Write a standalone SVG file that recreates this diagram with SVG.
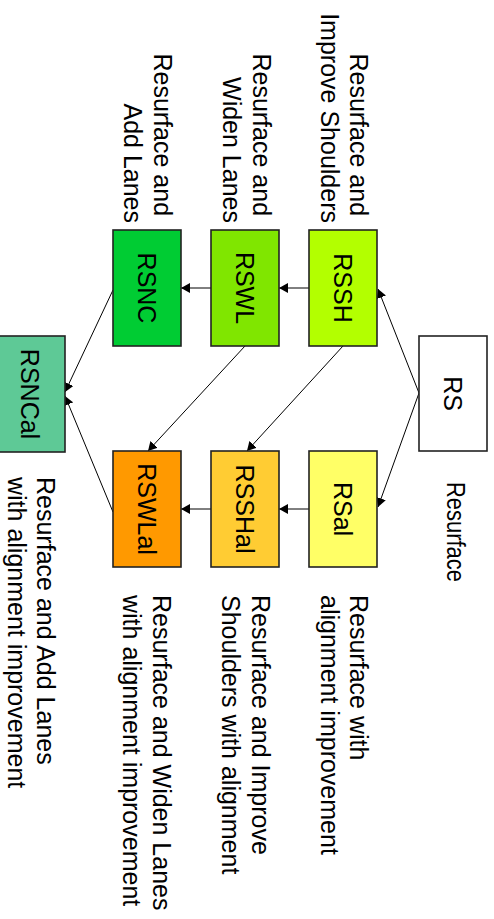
<svg xmlns="http://www.w3.org/2000/svg" width="494" height="919" viewBox="0 0 494 919">
  <style>
    .box { stroke: #222; stroke-width: 1.6; }
    .lbl { font-family: "Liberation Sans", Arial, sans-serif; font-size: 25px; fill: #000; }
    .node { text-anchor: middle; }
    .edge { stroke: #000; stroke-width: 1; fill: none; marker-end: url(#arrow); }
  </style>
  <defs>
    <marker id="arrow" viewBox="0 0 9 10" refX="9" refY="5" markerWidth="9" markerHeight="10" markerUnits="userSpaceOnUse" orient="auto">
      <path d="M0,0 L9,5 L0,10 z" fill="#000"/>
    </marker>
  </defs>
  <rect width="494" height="919" fill="#fff"/>

  <!-- connectors -->
  <g id="connectors">
    <line class="edge" x1="419" y1="393" x2="378" y2="289"/>
    <line class="edge" x1="419" y1="393" x2="378" y2="507"/>
    <line class="edge" x1="309" y1="288" x2="279" y2="288"/>
    <line class="edge" x1="211" y1="288" x2="181" y2="288"/>
    <line class="edge" x1="309" y1="509" x2="279" y2="509"/>
    <line class="edge" x1="211" y1="509" x2="181" y2="509"/>
    <line class="edge" x1="343" y1="346" x2="247" y2="451"/>
    <line class="edge" x1="245" y1="346" x2="148" y2="451"/>
    <line class="edge" x1="113" y1="290" x2="65" y2="392"/>
    <line class="edge" x1="113" y1="512" x2="65" y2="396"/>
  </g>

  <!-- nodes: labels read top-to-bottom -->
  <g id="RS">
    <rect class="box" x="419" y="336" width="68" height="115" fill="#fff"/>
    <text class="lbl node" transform="translate(453,393.5) rotate(90)" y="9">RS</text>
    <text class="lbl" font-size="21" transform="translate(447,482) rotate(90)" textLength="100" lengthAdjust="spacingAndGlyphs">Resurface</text>
  </g>

  <g id="RSSH">
    <rect class="box" x="309" y="230" width="68" height="116" fill="#b3ff00"/>
    <text class="lbl node" transform="translate(343,288) rotate(90)" y="9">RSSH</text>
    <text class="lbl" text-anchor="end" transform="translate(350,223) rotate(90)">
      <tspan x="0" y="0">Resurface and</tspan>
      <tspan x="0" y="29">Improve Shoulders</tspan>
    </text>
  </g>

  <g id="RSWL">
    <rect class="box" x="211" y="230" width="68" height="116" fill="#80e600"/>
    <text class="lbl node" transform="translate(245,288) rotate(90)" y="9">RSWL</text>
    <text class="lbl" text-anchor="end" transform="translate(253,223) rotate(90)">
      <tspan x="0" y="0">Resurface and</tspan>
      <tspan x="0" y="30">Widen Lanes</tspan>
    </text>
  </g>

  <g id="RSNC">
    <rect class="box" x="113" y="230" width="68" height="116" fill="#00cc33"/>
    <text class="lbl node" transform="translate(147,288) rotate(90)" y="9">RSNC</text>
    <text class="lbl" text-anchor="end" transform="translate(154,223) rotate(90)">
      <tspan x="0" y="0">Resurface and</tspan>
      <tspan x="0" y="30">Add Lanes</tspan>
    </text>
  </g>

  <g id="RSal">
    <rect class="box" x="309" y="451" width="68" height="116" fill="#ffff66"/>
    <text class="lbl node" transform="translate(343,509) rotate(90)" y="9">RSal</text>
    <text class="lbl" transform="translate(350,595) rotate(90)">
      <tspan x="0" y="0">Resurface with</tspan>
      <tspan x="0" y="29">alignment improvement</tspan>
    </text>
  </g>

  <g id="RSSHal">
    <rect class="box" x="211" y="451" width="68" height="116" fill="#ffcc33"/>
    <text class="lbl node" transform="translate(245,509) rotate(90)" y="9">RSSHal</text>
    <text class="lbl" transform="translate(252,595) rotate(90)">
      <tspan x="0" y="0">Resurface and Improve</tspan>
      <tspan x="0" y="30">Shoulders with alignment</tspan>
    </text>
  </g>

  <g id="RSWLal">
    <rect class="box" x="113" y="451" width="68" height="116" fill="#ff9900"/>
    <text class="lbl node" transform="translate(147,509) rotate(90)" y="9">RSWLal</text>
    <text class="lbl" transform="translate(153,595) rotate(90)">
      <tspan x="0" y="0">Resurface and Widen Lanes</tspan>
      <tspan x="0" y="30">with alignment improvement</tspan>
    </text>
  </g>

  <g id="RSNCal">
    <rect class="box" x="-3" y="336" width="68" height="116" fill="#5ec996"/>
    <text class="lbl node" transform="translate(30,394) rotate(90)" y="9">RSNCal</text>
    <text class="lbl" transform="translate(37,477) rotate(90)">
      <tspan x="0" y="0">Resurface and Add Lanes</tspan>
      <tspan x="0" y="29">with alignment improvement</tspan>
    </text>
  </g>
</svg>
